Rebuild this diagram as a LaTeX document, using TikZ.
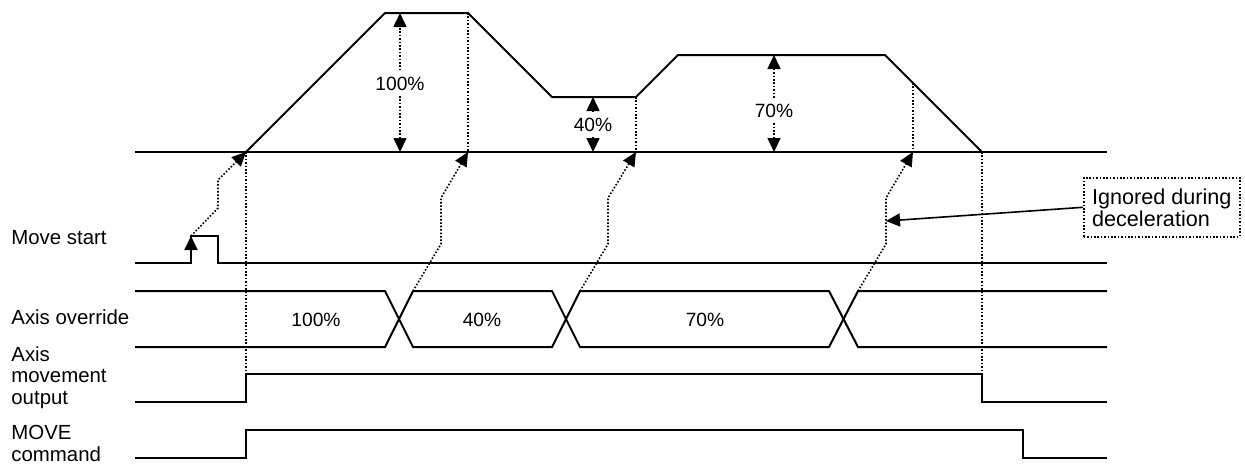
\documentclass[tikz,border=0pt]{standalone}
\usepackage{fontspec}
\setmainfont{Liberation Sans}
\usetikzlibrary{arrows.meta}

\tikzset{
    sig/.style={line width=1pt},
    dots/.style={line width=0.8pt, dash pattern=on 0.8pt off 0.9pt},
    arr/.style={-{Triangle[length=7pt,width=6.5pt]}},
    twoarr/.style={{Triangle[length=7pt,width=6.5pt]}-{Triangle[length=7pt,width=6.5pt]}},
    lbl/.style={anchor=north west, inner sep=0pt, align=left, font=\fontsize{10.2}{10.8}\selectfont},
    pct/.style={fill=white, inner sep=2.5pt, font=\fontsize{9.6}{11}\selectfont},
}

\begin{document}
\begin{tikzpicture}[x=0.5pt, y=-0.5pt]
        \useasboundingbox (0,0) rectangle (1245,468);

        \coordinate (start) at (246,152);
        \coordinate (dec1) at (468,152);
        \coordinate (acc2) at (636,152);
        \coordinate (dec3) at (913,152);
        \coordinate (stop) at (982,152);
        \coordinate (pulse) at (191,236);
        \coordinate (x1) at (413,291);
        \coordinate (x2) at (580,291);
        \coordinate (x3) at (858,291);
        \coordinate (ignore) at (886,221);

        \draw [sig] (135,152) -- (1107,152);
        \draw [sig, line join=miter] (start) -- (385,13) -- (468,13) -- (552,97) -- (636,97) -- (678,55) -- (885,55) -- (stop);

        \draw [sig] (135,263) -- (191,263) -- (191,236) -- (218,236) -- (218,263) -- (1107,263);
        \draw [sig, arr] (191,263) -- (pulse);

        \draw [sig] (135,291) -- (385,291) -- (413,347) -- (552,347) -- (580,291) -- (829,291) -- (858,347) -- (1107,347);
        \draw [sig] (135,347) -- (385,347) -- (413,291) -- (552,291) -- (580,347) -- (829,347) -- (858,291) -- (1107,291);

        \draw [sig] (135,402) -- (246,402) -- (246,374) -- (982,374) -- (982,402) -- (1107,402);
        \draw [sig] (135,458) -- (246,458) -- (246,430) -- (1023,430) -- (1023,458) -- (1107,458);

        \draw [dots] (start) -- (246,374);
        \draw [dots] (stop) -- (982,374);
        \draw [dots] (468,13) -- (dec1);
        \draw [dots] (636,97) -- (acc2);
        \draw [dots] (913,83) -- (dec3);

        \draw [dots, arr] (pulse) -- (218,208) -- (218,180) -- (start);
        \draw [dots, arr] (x1) -- (441,244) -- (441,198) -- (dec1);
        \draw [dots, arr] (x2) -- (608,244) -- (608,198) -- (acc2);
        \draw [dots, arr] (x3) -- (886,244) -- (886,198) -- (dec3);

        \draw [dots, twoarr] (400,152) -- (400,13);
        \draw [dots, twoarr] (593,152) -- (593,97);
        \draw [dots, twoarr] (774,152) -- (774,55);
        \node [pct] (v100) at (400,84) {100\%};
        \node [pct] (v40) at (593,125) {40\%};
        \node [pct] (v70) at (774,111) {70\%};

        \node [pct] (o100) at (316,320) {100\%};
        \node [pct] (o40) at (482,320) {40\%};
        \node [pct] (o70) at (705,320) {70\%};

        \node [lbl] (lmove) at (11,230) {Move start};
        \node [lbl] (lover) at (11,309) {Axis override};
        \node [lbl] (lout) at (11,346) {Axis\\movement\\output};
        \node [lbl] (lcmd) at (11,425) {MOVE\\command};

        \node [draw, dots, anchor=north west, minimum width=78pt, minimum height=29.5pt, inner xsep=3.5pt, align=left, font=\fontsize{10.8}{11}\selectfont] (ign) at (1083,177) {Ignored during\\deceleration};
        \draw [line width=0.8pt, arr] (ign.west) -- (ignore);
    \end{tikzpicture}
\end{document}
